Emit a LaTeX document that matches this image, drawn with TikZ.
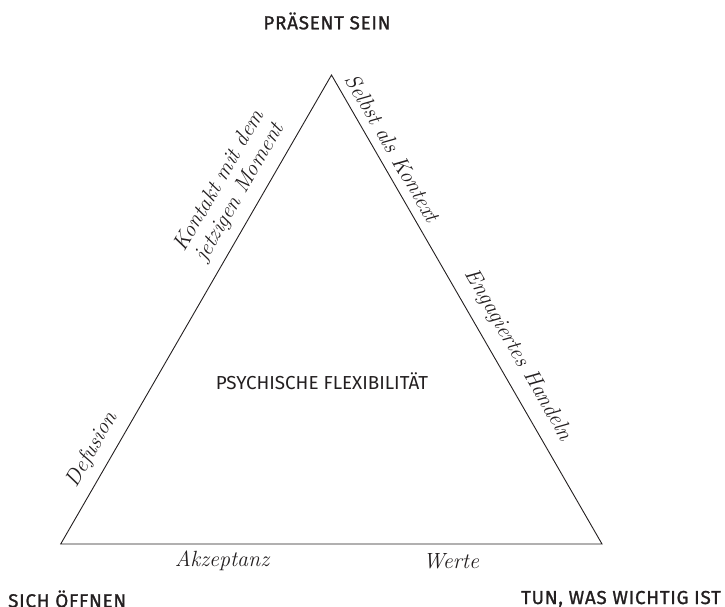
\documentclass[tikz,border=0pt]{standalone}
\usepackage{fontspec}
\setsansfont{Fira Sans}
\newfontfamily\cornerfont{Fira Sans}[FakeBold=1.2, LetterSpace=4]
\definecolor{ink}{HTML}{231F20}
\tikzset{
  caps/.style={font=\sffamily\fontsize{18.8}{21}\selectfont, text=ink, inner sep=0pt},
  cornercaps/.style={font=\cornerfont\fontsize{18.8}{21}\selectfont, text=ink, inner sep=0pt},
  edgelabel/.style={font=\itshape\fontsize{22}{23.5}\selectfont, text=ink, inner sep=0pt, align=center},
  edge/.style={draw=ink, line width=0.9pt, line join=miter}
}
\begin{document}
\begin{tikzpicture}[x=1pt,y=-1pt]
\useasboundingbox (0,0) rectangle (725,607);
\coordinate (apex) at (331.5,75);
\coordinate (bl) at (60.7,544);
\coordinate (br) at (602,544);
\draw[edge] (bl) -- (apex) -- (br) -- cycle;
\node[cornercaps] (top) at (327,21) {PRÄSENT SEIN};
\node[cornercaps, anchor=west] (left) at (8,599) {SICH ÖFFNEN};
\node[cornercaps, anchor=east] (right) at (721,599) {TUN, WAS WICHTIG IST};
\node[caps] (center) at (322,381) {PSYCHISCHE FLEXIBILITÄT};
\node[edgelabel] (akz) at (222,561) {Akzeptanz};
\node[edgelabel] (wer) at (451,561) {Werte};
\node[edgelabel, rotate=60] (def) at (92,450) {Defusion};
\node[edgelabel, rotate=60] (kon) at (230,187) {Kontakt mit dem\\jetzigen Moment};
\node[edgelabel, rotate=-60] (sel) at (393,148) {Selbst als Kontext};
\node[edgelabel, rotate=-60] (eng) at (518,355) {Engagiertes Handeln};
\end{tikzpicture}
\end{document}
